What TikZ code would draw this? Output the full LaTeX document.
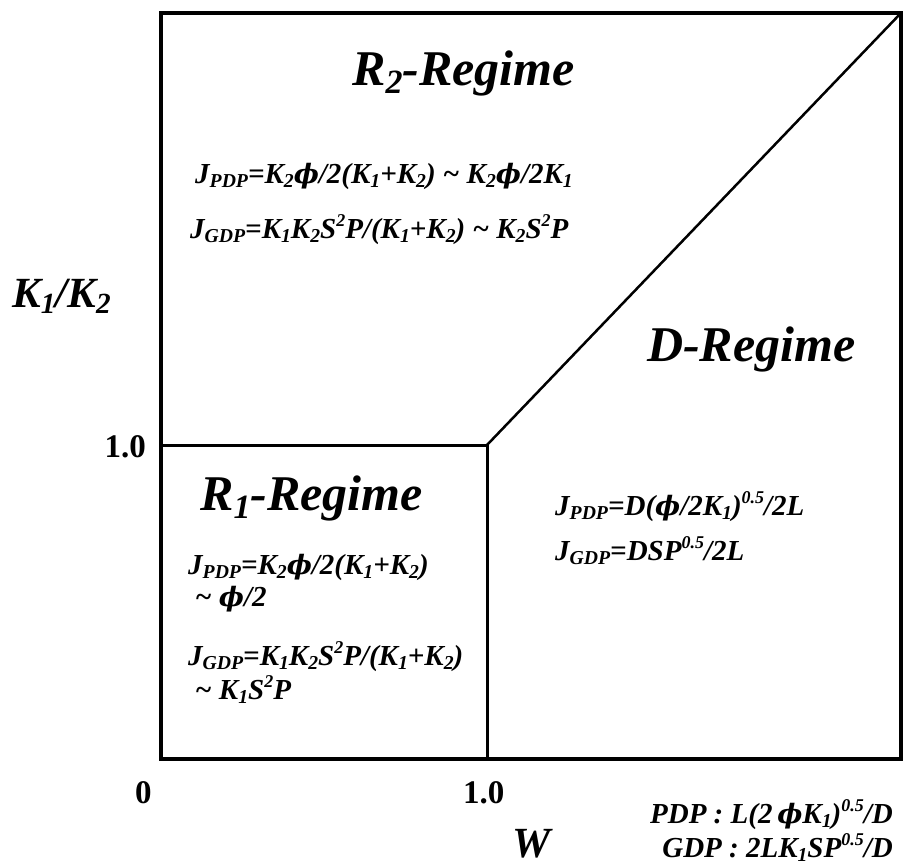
\documentclass[tikz,border=0pt]{standalone}
\usepackage{fontspec}
\setmainfont{Liberation Serif}
\newfontfamily\phifont[Scale=0.92]{DejaVu Serif}
\usetikzlibrary{positioning}
\newcommand{\lo}[1]{\raisebox{-0.35ex}{\scalebox{0.68}{#1}}}
\newcommand{\hi}[1]{\raisebox{0.85ex}{\scalebox{0.62}{#1}}}
\newcommand{\tld}{\textasciitilde}
\newcommand{\ph}{{\phifont ϕ}}
\tikzset{
  regime/.style={font=\fontsize{50}{50}\selectfont\bfseries\itshape,inner sep=0pt,anchor=base west},
  eqn/.style={font=\fontsize{29}{29}\selectfont\bfseries\itshape,inner sep=0pt,anchor=base west},
  ticklbl/.style={font=\fontsize{33}{33}\selectfont\bfseries,inner sep=0pt},
  axlbl/.style={font=\fontsize{43}{43}\selectfont\bfseries\itshape,inner sep=0pt,anchor=base west},
  frame/.style={line width=3.4pt},
  bnd/.style={line width=3pt},
}

\begin{document}
\begin{tikzpicture}[x=1pt,y=-1pt]
 \useasboundingbox (0,0) rectangle (905,867);
 % frame and regime boundaries
 \coordinate (TL) at (161,13);
 \coordinate (TR) at (901,13);
 \coordinate (BL) at (161,759);
 \coordinate (BR) at (901,759);
 \coordinate (Y1) at (161,445);
 \coordinate (X1) at (487,759);
 \coordinate (C) at (487,445);
 \draw[frame] (TL) -- (TR) -- (BR) -- (BL) -- cycle;
 \draw[bnd] (Y1) -- (C) -- (X1);
 \draw[bnd,line width=2.5pt] (C) -- (TR);
 % R2 regime
 \node[regime] (r2) at (352,85) {R\lo{2}-Regime};
 \node[eqn] (r2p) at (195,183) {J\lo{PDP}=K\lo{2}\ph/2(K\lo{1}+K\lo{2}) \tld{} K\lo{2}\ph/2K\lo{1}};
 \node[eqn] (r2g) at (190,238) {J\lo{GDP}=K\lo{1}K\lo{2}S\hi{2}P/(K\lo{1}+K\lo{2}) \tld{} K\lo{2}S\hi{2}P};
 % R1 regime
 \node[regime] (r1) at (200,510) {R\lo{1}-Regime};
 \node[eqn] (r1p) at (188,574) {J\lo{PDP}=K\lo{2}\ph/2(K\lo{1}+K\lo{2})};
 \node[eqn] (r1pa) at (195,606) {\tld{} \ph/2};
 \node[eqn] (r1g) at (188,665) {J\lo{GDP}=K\lo{1}K\lo{2}S\hi{2}P/(K\lo{1}+K\lo{2})};
 \node[eqn] (r1ga) at (195,699) {\tld{} K\lo{1}S\hi{2}P};
 % D regime
 \node[regime] (dr) at (647,361) {D-Regime};
 \node[eqn] (dp) at (555,515) {J\lo{PDP}=D(\ph/2K\lo{1})\hi{0.5}/2L};
 \node[eqn] (dg) at (555,560) {J\lo{GDP}=DSP\hi{0.5}/2L};
 % axes
 \node[axlbl] (ylab) at (12,307) {K\lo{1}/K\lo{2}};
 \node[axlbl] (xlab) at (512,857) {W};
 \node[ticklbl,anchor=base east] (y1) at (146,457) {1.0};
 \node[ticklbl,anchor=base west] (x0) at (135,803) {0};
 \node[ticklbl,anchor=base west] (x1) at (463,803) {1.0};
 % scales
 \node[eqn,anchor=base east] (sp) at (893,823) {PDP : L(2\,\ph K\lo{1})\hi{0.5}/D};
 \node[eqn,anchor=base east] (sg) at (893,857) {GDP : 2LK\lo{1}SP\hi{0.5}/D};
\end{tikzpicture}
\end{document}
